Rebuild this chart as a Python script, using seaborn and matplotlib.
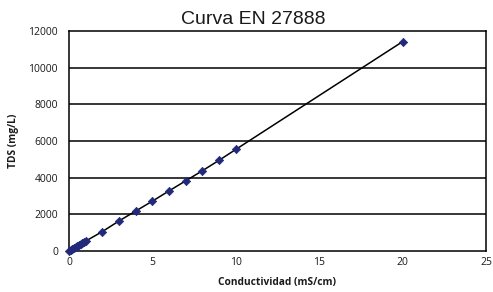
import matplotlib
matplotlib.use("Agg")
import matplotlib.pyplot as plt
import seaborn as sns
import pandas as pd

# datos
conductividad = [0, 0.1, 0.2, 0.3, 0.4, 0.5, 0.6, 0.7, 0.8, 0.9, 1, 2, 3, 4, 5, 6, 7, 8, 9, 10, 20]
tds = [0, 55, 110, 165, 220, 275, 330, 385, 440, 495, 540, 1060, 1640, 2180, 2720, 3280, 3830, 4380, 4950, 5540, 11420]
xticks = [0, 5, 10, 15, 20, 25]
yticks = [0, 2000, 4000, 6000, 8000, 10000, 12000]

data = pd.DataFrame({"cond": conductividad, "tds": tds})

sns.set_style("white")
plt.rcParams["font.family"] = ["Open Sans", "DejaVu Sans"]
plt.rcParams["text.color"] = "#1a1a1a"
plt.rcParams["xtick.color"] = "#1a1a1a"
plt.rcParams["ytick.color"] = "#1a1a1a"
plt.rcParams["axes.labelcolor"] = "#1a1a1a"

fig = plt.figure(figsize=(4.93, 2.92), dpi=100)
ax = fig.add_axes([69/493, 1-251/292, (486-69)/493, (251-31)/292])

for y in yticks[1:-1]:
    ax.axhline(y, color="black", linewidth=1.1, zorder=1)

sns.lineplot(data=data, x="cond", y="tds", color="black", linewidth=1.1, ax=ax, zorder=2)
sns.scatterplot(data=data, x="cond", y="tds", marker="D", color="#22287a", s=18,
                edgecolor="#22287a", linewidth=0.5, ax=ax, zorder=3, clip_on=False)

ax.set_xlim(0, 25)
ax.set_ylim(0, 12000)
ax.set_xticks(xticks)
ax.set_yticks(yticks)
ax.tick_params(axis="x", direction="in", length=4, width=1.1, color="black", labelsize=7.5, pad=4)
ax.tick_params(axis="y", length=0, labelsize=7.5, pad=8)
for s in ax.spines.values():
    s.set_color("black")
    s.set_linewidth(1.1)

ax.set_xlabel("Conductividad (mS/cm)", fontsize=7.3, fontweight="bold", labelpad=7)
ax.set_ylabel("TDS (mg/L)", fontsize=7.3, fontweight="bold", labelpad=7)
fig.suptitle("Curva EN 27888", x=253/493, y=1-19/292, va="center", fontsize=14,
             family=["Liberation Sans", "DejaVu Sans"])

fig.savefig("out.png", dpi=100)
